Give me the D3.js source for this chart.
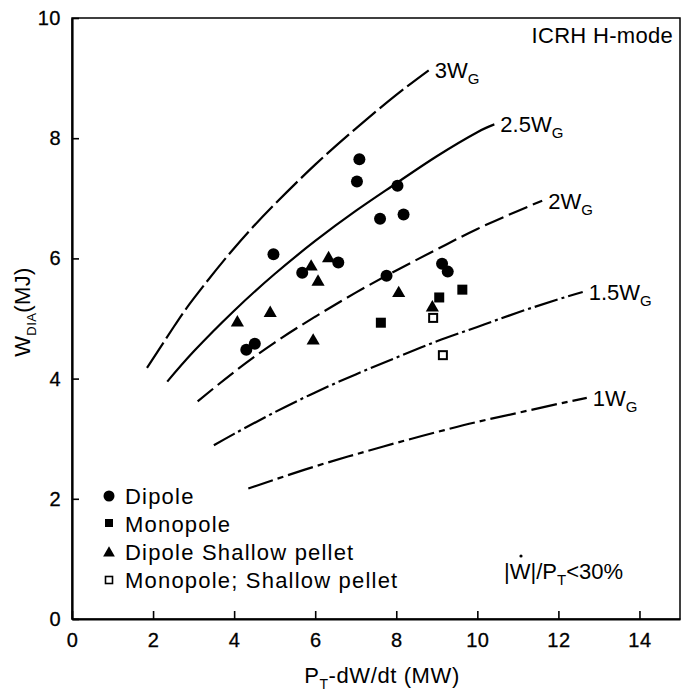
<!DOCTYPE html>
<html>
<head>
<meta charset="utf-8">
<script src="https://cdn.jsdelivr.net/npm/d3@7/dist/d3.min.js"></script>
<style>
  body { margin: 0; background: #fff; }
  text { font-family: "Liberation Sans", Arial, sans-serif; fill: #000; }
</style>
</head>
<body>
<script>
// chart values
let xTicks = [0, 2, 4, 6, 8, 10, 12, 14];
let yTicks = [0, 2, 4, 6, 8, 10];

let dipole = [[4.30, 4.48], [4.51, 4.58], [4.97, 6.07], [5.68, 5.76], [6.57, 5.93],
  [7.03, 7.28], [7.09, 7.65], [7.60, 6.66], [7.76, 5.71], [8.03, 7.21],
  [8.18, 6.73], [9.13, 5.91], [9.27, 5.78]];
let monopole = [[7.62, 4.93], [9.06, 5.35], [9.63, 5.48]];
let dipolePellet = [[4.08, 4.93], [4.89, 5.09], [5.90, 5.86], [6.07, 5.61], [6.33, 6.00],
  [5.95, 4.63], [8.06, 5.42], [8.89, 5.18]];
let monopolePellet = [[8.91, 5.01], [9.15, 4.39]];

let curve3 = [[1.85, 4.18], [2.5, 4.85], [3, 5.33], [4, 6.17], [5, 6.90], [6, 7.56], [7, 8.16], [8, 8.72], [8.8, 9.13]];
let curve25 = [[2.35, 3.95], [3, 4.45], [4, 5.13], [5, 5.74], [6, 6.29], [7, 6.79], [8, 7.25], [9, 7.70], [10, 8.10], [10.42, 8.23]];
let curve2 = [[3.1, 3.62], [4, 4.11], [5, 4.60], [6, 5.03], [7, 5.43], [8, 5.80], [9, 6.15], [10, 6.49], [11, 6.79], [11.6, 6.96]];
let curve15 = [[3.5, 2.89], [4, 3.08], [5, 3.44], [6, 3.77], [7, 4.07], [8, 4.35], [9, 4.62], [10, 4.86], [11, 5.10], [12, 5.32], [12.6, 5.44]];
let curve1 = [[4.35, 2.17], [5, 2.32], [6, 2.54], [7, 2.74], [8, 2.93], [9, 3.11], [10, 3.28], [11, 3.43], [12, 3.58], [12.7, 3.68]];

let curveNames = ["3", "2.5", "2", "1.5", "1"];
let legendNames = ["Dipole", "Monopole", "Dipole Shallow pellet", "Monopole; Shallow pellet"];

let width = 689, height = 691;
let plotLeft = 72, plotRight = 680, plotTop = 18, plotBottom = 619;

let svg = d3.select("body").append("svg")
  .attr("width", width)
  .attr("height", height);

let x = d3.scaleLinear().domain([0, 15]).range([plotLeft, plotRight]);
let y = d3.scaleLinear().domain([0, 10]).range([plotBottom, plotTop]);

// frame
svg.append("rect")
  .attr("x", plotLeft).attr("y", plotTop)
  .attr("width", plotRight - plotLeft).attr("height", plotBottom - plotTop)
  .attr("fill", "none").attr("stroke", "#000").attr("stroke-width", 1.5);

// axes with inward ticks
let xAxis = svg.append("g")
  .attr("transform", `translate(0,${plotBottom})`)
  .call(d3.axisBottom(x).tickValues(xTicks).tickSizeInner(-8).tickSizeOuter(0).tickPadding(13));
let yAxis = svg.append("g")
  .attr("transform", `translate(${plotLeft},0)`)
  .call(d3.axisLeft(y).tickValues(yTicks).tickSizeInner(-7).tickSizeOuter(0).tickPadding(11));
[xAxis, yAxis].forEach(g => {
  g.select(".domain").attr("stroke-width", 2.2);
  g.selectAll(".tick line").attr("stroke-width", 1.6);
  g.selectAll(".tick text")
    .style("font-family", "'Liberation Sans', Arial, sans-serif")
    .style("font-size", "20px")
    .style("letter-spacing", "0.5px")
    .style("stroke", "#000").style("stroke-width", 0.3);
});
xAxis.selectAll(".tick text").attr("dy", "0.75em");

// reference curves
let curves = [curve3, curve25, curve2, curve15, curve1];
let dashes = ["30,5", null, "20,6", "24,4,3,4", "26,5,6,5"];
let line = d3.line().x(d => x(d[0])).y(d => y(d[1])).curve(d3.curveNatural);

curves.forEach((c, i) => {
  svg.append("path")
    .attr("d", line(c))
    .attr("fill", "none")
    .attr("stroke", "#000")
    .attr("stroke-width", 2.2)
    .attr("stroke-dasharray", dashes[i]);
  let last = c[c.length - 1];
  let t = svg.append("text")
    .attr("x", x(last[0]) + 6)
    .attr("y", y(last[1]) + 8)
    .style("font-size", "22px");
  t.append("tspan").text(curveNames[i] + "W");
  t.append("tspan").attr("dy", 6).style("font-size", "15px").text("G");
});

// markers
let sym = (type, size) => d3.symbol().type(type).size(size)();

svg.append("g").selectAll("circle").data(dipole).join("circle")
  .attr("cx", d => x(d[0])).attr("cy", d => y(d[1])).attr("r", 6);

svg.append("g").selectAll("rect").data(monopole).join("rect")
  .attr("x", d => x(d[0]) - 5).attr("y", d => y(d[1]) - 5)
  .attr("width", 10).attr("height", 10);

svg.append("g").selectAll("path").data(dipolePellet).join("path")
  .attr("transform", d => `translate(${x(d[0])},${y(d[1])})`)
  .attr("d", sym(d3.symbolTriangle, 75));

svg.append("g").selectAll("rect").data(monopolePellet).join("rect")
  .attr("x", d => x(d[0]) - 4).attr("y", d => y(d[1]) - 4)
  .attr("width", 8).attr("height", 8)
  .attr("fill", "#fff").attr("stroke", "#000").attr("stroke-width", 2);

// legend
let legend = svg.append("g").attr("transform", "translate(109,496)");
legendNames.forEach((name, i) => {
  let gy = i * 28;
  if (i === 0) legend.append("circle").attr("cx", 0).attr("cy", gy).attr("r", 5.5);
  if (i === 1) legend.append("rect").attr("x", -4).attr("y", gy - 5).attr("width", 8).attr("height", 8);
  if (i === 2) legend.append("path").attr("transform", `translate(0,${gy + 1})`).attr("d", sym(d3.symbolTriangle, 60));
  if (i === 3) legend.append("rect").attr("x", -3.5).attr("y", gy - 3.5).attr("width", 7).attr("height", 7)
    .attr("fill", "#fff").attr("stroke", "#000").attr("stroke-width", 1.6);
  legend.append("text")
    .attr("x", 16).attr("y", gy + 8)
    .style("font-size", "22px")
    .style("letter-spacing", "1.2px")
    .text(name);
});

// annotations
svg.append("text")
  .attr("x", 673).attr("y", 43)
  .attr("text-anchor", "end")
  .style("font-size", "22px")
  .style("letter-spacing", "0.3px")
  .text("ICRH H-mode");

let ratio = svg.append("text").attr("x", 504).attr("y", 579).style("font-size", "22px");
ratio.append("tspan").text("|W|/P");
ratio.append("tspan").attr("dy", 6).style("font-size", "15px").text("T");
ratio.append("tspan").attr("dy", -6).text("<30%");
// time-derivative dot over the W
svg.append("circle").attr("cx", 521).attr("cy", 556).attr("r", 1.6);

// axis titles
let xt = svg.append("text")
  .attr("x", 382).attr("y", 683)
  .attr("text-anchor", "middle")
  .style("font-size", "22px")
  .style("letter-spacing", "0.6px");
xt.append("tspan").text("P");
xt.append("tspan").attr("dy", 6).style("font-size", "14px").text("T");
xt.append("tspan").attr("dy", -6).text("-dW/dt (MW)");

let yt = svg.append("text")
  .attr("transform", "translate(30,312) rotate(-90)")
  .attr("text-anchor", "middle")
  .style("font-size", "22px")
  .style("letter-spacing", "0.4px");
yt.append("tspan").text("W");
yt.append("tspan").attr("dy", 6).style("font-size", "13px").text("DIA");
yt.append("tspan").attr("dy", -6).text("(MJ)");
</script>
</body>
</html>
